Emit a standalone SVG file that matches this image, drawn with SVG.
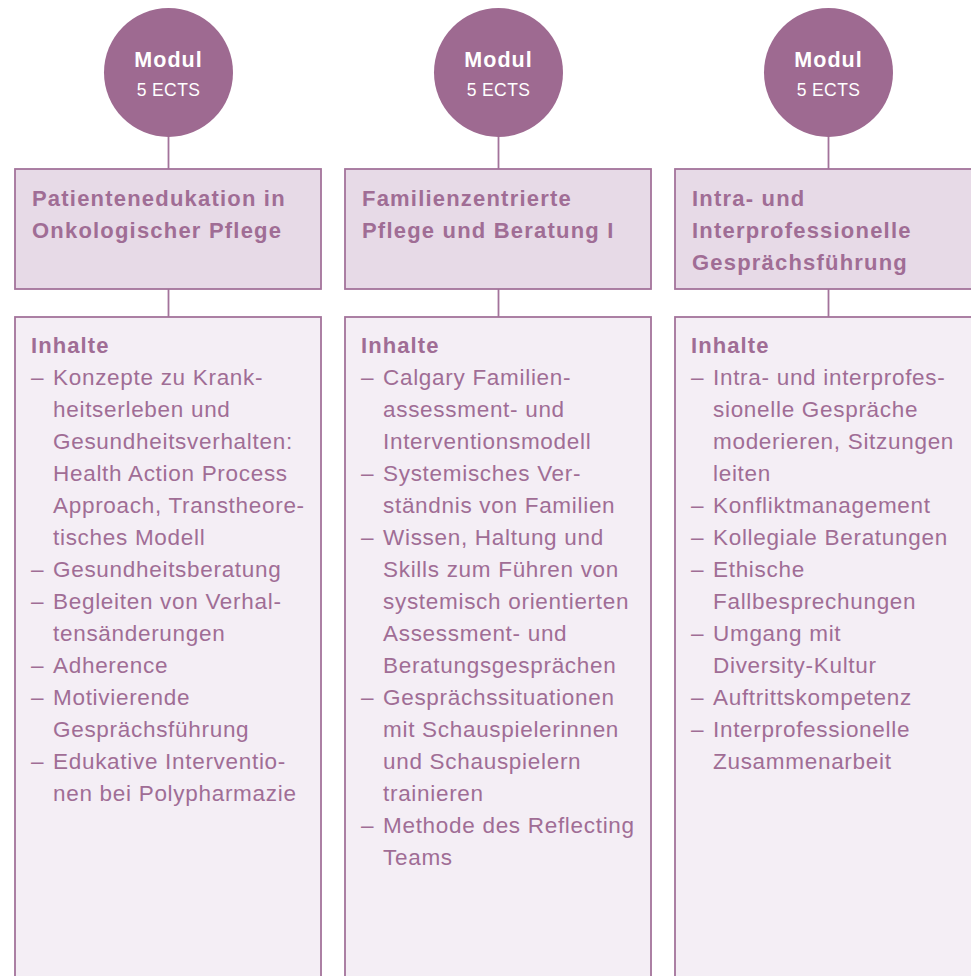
<svg xmlns="http://www.w3.org/2000/svg" width="971" height="976" viewBox="0 0 971 976">
<style>
.circ{fill:#9e6a91}
.tbox{fill:#e7dae7;stroke:#a3739b;stroke-width:1.8}
.cbox{fill:#f4eef5;stroke:#a3739b;stroke-width:1.8}
.conn{stroke:#a3739b;stroke-width:1.8;fill:none}
.m1{font-family:"Liberation Sans",Arial,sans-serif;font-weight:bold;font-size:21.5px;letter-spacing:1px;fill:#ffffff;text-anchor:middle}
.m2{font-family:"Liberation Sans",Arial,sans-serif;font-size:17.5px;letter-spacing:0.4px;fill:#ffffff;text-anchor:middle}
.ti{font-family:"Liberation Sans",Arial,sans-serif;font-weight:bold;font-size:22px;letter-spacing:1.2px;fill:#a06d95}
.hd{font-family:"Liberation Sans",Arial,sans-serif;font-weight:bold;font-size:22px;letter-spacing:1.1px;fill:#a06d95}
.tx{font-family:"Liberation Sans",Arial,sans-serif;font-size:22.5px;letter-spacing:0.7px;fill:#a06d95}
</style>
<g id="connectors">
<line class="conn" x1="168.5" y1="136" x2="168.5" y2="170"/>
<line class="conn" x1="168.5" y1="289" x2="168.5" y2="318"/>
<line class="conn" x1="498.5" y1="136" x2="498.5" y2="170"/>
<line class="conn" x1="498.5" y1="289" x2="498.5" y2="318"/>
<line class="conn" x1="828.5" y1="136" x2="828.5" y2="170"/>
<line class="conn" x1="828.5" y1="289" x2="828.5" y2="318"/>
</g>
<g id="col1">
<g id="modul1">
<circle class="circ" cx="168.5" cy="72.5" r="64.5"/>
<text class="m1" x="168.5" y="67">Modul</text>
<text class="m2" x="168.5" y="96">5 ECTS</text>
</g>
<g id="title1">
<rect class="tbox" x="15" y="169" width="306" height="120"/>
<text class="ti" x="32" y="206">Patientenedukation in</text>
<text class="ti" x="32" y="238">Onkologischer Pflege</text>
</g>
<g id="content1">
<rect class="cbox" x="15" y="317" width="306" height="700"/>
<text class="hd" x="31" y="353">Inhalte</text>
<g class="tx">
<text x="31" y="385">–</text><text x="53" y="385">Konzepte zu Krank-</text>
<text x="53" y="417">heitserleben und</text>
<text x="53" y="449">Gesundheitsverhalten:</text>
<text x="53" y="481">Health Action Process</text>
<text x="53" y="513">Approach, Transtheore-</text>
<text x="53" y="545">tisches Modell</text>
<text x="31" y="577">–</text><text x="53" y="577">Gesundheitsberatung</text>
<text x="31" y="609">–</text><text x="53" y="609">Begleiten von Verhal-</text>
<text x="53" y="641">tensänderungen</text>
<text x="31" y="673">–</text><text x="53" y="673">Adherence</text>
<text x="31" y="705">–</text><text x="53" y="705">Motivierende</text>
<text x="53" y="737">Gesprächsführung</text>
<text x="31" y="769">–</text><text x="53" y="769">Edukative Interventio-</text>
<text x="53" y="801">nen bei Polypharmazie</text>
</g>
</g>
</g>
<g id="col2">
<g id="modul2">
<circle class="circ" cx="498.5" cy="72.5" r="64.5"/>
<text class="m1" x="498.5" y="67">Modul</text>
<text class="m2" x="498.5" y="96">5 ECTS</text>
</g>
<g id="title2">
<rect class="tbox" x="345" y="169" width="306" height="120"/>
<text class="ti" x="362" y="206">Familienzentrierte</text>
<text class="ti" x="362" y="238">Pflege und Beratung I</text>
</g>
<g id="content2">
<rect class="cbox" x="345" y="317" width="306" height="700"/>
<text class="hd" x="361" y="353">Inhalte</text>
<g class="tx">
<text x="361" y="385">–</text><text x="383" y="385">Calgary Familien-</text>
<text x="383" y="417">assessment- und</text>
<text x="383" y="449">Interventionsmodell</text>
<text x="361" y="481">–</text><text x="383" y="481">Systemisches Ver-</text>
<text x="383" y="513">ständnis von Familien</text>
<text x="361" y="545">–</text><text x="383" y="545">Wissen, Haltung und</text>
<text x="383" y="577">Skills zum Führen von</text>
<text x="383" y="609">systemisch orientierten</text>
<text x="383" y="641">Assessment- und</text>
<text x="383" y="673">Beratungsgesprächen</text>
<text x="361" y="705">–</text><text x="383" y="705">Gesprächssituationen</text>
<text x="383" y="737">mit Schauspielerinnen</text>
<text x="383" y="769">und Schauspielern</text>
<text x="383" y="801">trainieren</text>
<text x="361" y="833">–</text><text x="383" y="833">Methode des Reflecting</text>
<text x="383" y="865">Teams</text>
</g>
</g>
</g>
<g id="col3">
<g id="modul3">
<circle class="circ" cx="828.5" cy="72.5" r="64.5"/>
<text class="m1" x="828.5" y="67">Modul</text>
<text class="m2" x="828.5" y="96">5 ECTS</text>
</g>
<g id="title3">
<rect class="tbox" x="675" y="169" width="306" height="120"/>
<text class="ti" x="692" y="206">Intra- und</text>
<text class="ti" x="692" y="238">Interprofessionelle</text>
<text class="ti" x="692" y="270">Gesprächsführung</text>
</g>
<g id="content3">
<rect class="cbox" x="675" y="317" width="306" height="700"/>
<text class="hd" x="691" y="353">Inhalte</text>
<g class="tx">
<text x="691" y="385">–</text><text x="713" y="385">Intra- und interprofes-</text>
<text x="713" y="417">sionelle Gespräche</text>
<text x="713" y="449">moderieren, Sitzungen</text>
<text x="713" y="481">leiten</text>
<text x="691" y="513">–</text><text x="713" y="513">Konfliktmanagement</text>
<text x="691" y="545">–</text><text x="713" y="545">Kollegiale Beratungen</text>
<text x="691" y="577">–</text><text x="713" y="577">Ethische</text>
<text x="713" y="609">Fallbesprechungen</text>
<text x="691" y="641">–</text><text x="713" y="641">Umgang mit</text>
<text x="713" y="673">Diversity-Kultur</text>
<text x="691" y="705">–</text><text x="713" y="705">Auftrittskompetenz</text>
<text x="691" y="737">–</text><text x="713" y="737">Interprofessionelle</text>
<text x="713" y="769">Zusammenarbeit</text>
</g>
</g>
</g>
</svg>
